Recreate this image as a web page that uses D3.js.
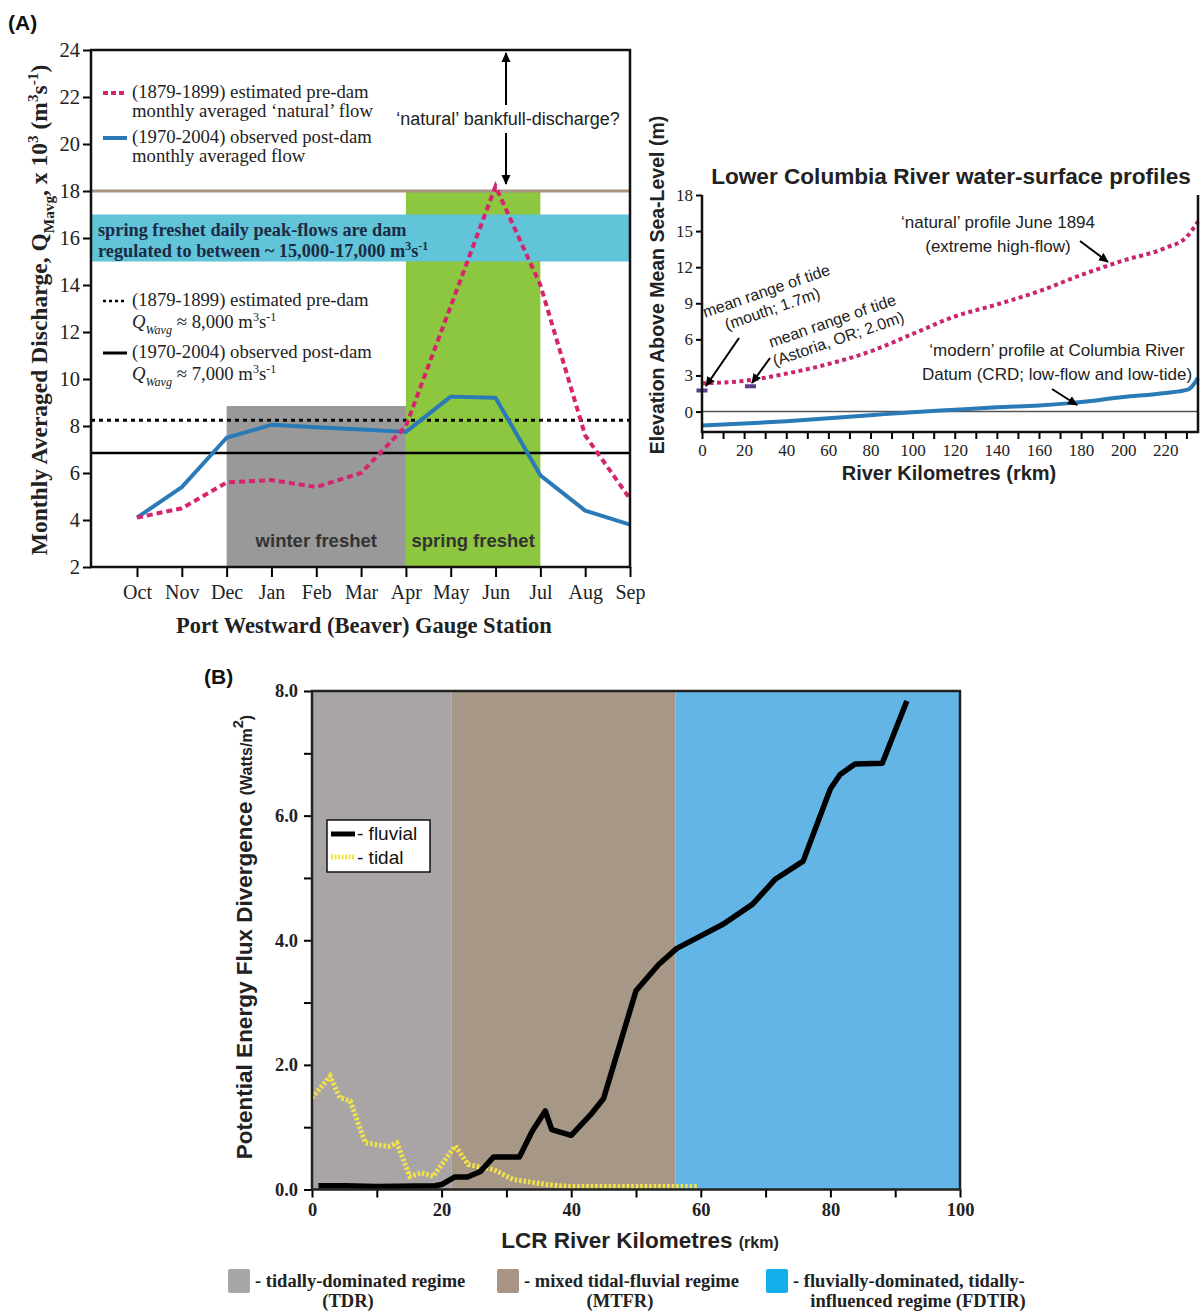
<!DOCTYPE html>
<html><head><meta charset="utf-8">
<script src="https://cdn.jsdelivr.net/npm/d3@7"></script>
<style>body{margin:0;background:#fff}svg{display:block}</style>
</head><body>
<svg id="c" width="1203" height="1313"></svg>
<script>
// ---------- DATA ----------
// Panel A (left): monthly averaged discharge (x 10^3 m3/s)
const months = ["Oct","Nov","Dec","Jan","Feb","Mar","Apr","May","Jun","Jul","Aug","Sep"];
const naturalFlow = [4.1,4.5,5.6,5.7,5.4,6.0,8.0,13.1,18.2,14.0,7.6,4.9];
const observedFlow = [4.1,5.4,7.5,8.05,7.95,7.85,7.75,9.25,9.2,5.9,4.4,3.8];
const qWavgPre = 8.25, qWavgPost = 6.85;
const bankfullLine = 18;
const regulatedBand = [15,17];
const winterFreshet = ["Dec","Apr"], winterTop = 8.85;
const springFreshet = ["Apr","Jul"], springTop = 18;
const yTicksA = [2,4,6,8,10,12,14,16,18,20,22,24];

// Panel A (right): water-surface profiles
const rkmNatural = [0,20,40,60,80,100,120,140,160,180,200,220,230,235.5];
const elevNatural = [2.35,2.55,3.15,3.95,5.0,6.45,7.9,8.9,10.0,11.35,12.55,13.6,14.5,15.8];
const rkmModern = [0,20,40,60,80,100,120,140,160,175,200,220,231,235.5];
const elevModern = [-1.15,-1.0,-0.8,-0.55,-0.3,-0.05,0.15,0.35,0.5,0.7,1.2,1.55,1.85,2.8];
const tideKm = [0,23];
const tideRange = [1.75,2.1];
const yTicksR = [0,3,6,9,12,15,18];

// Panel B: potential energy flux divergence
const fluvialKm = [1,5,10,19,20,22,24,26,28,32,34,36,37,40,43,45,46.5,48,50,53.5,56.3,60,63.5,68,71.5,75.8,76.3,80,81.5,83.8,88,91.8];
const fluvialVal = [0.06,0.06,0.05,0.06,0.08,0.2,0.2,0.29,0.52,0.52,0.94,1.26,0.96,0.87,1.2,1.46,1.98,2.5,3.19,3.61,3.87,4.07,4.26,4.58,4.98,5.27,5.41,6.43,6.66,6.83,6.84,7.84];
const tidalKm = [0,2.8,4.3,5.9,8.2,11.8,13.1,15.1,16.9,18.7,22.1,24.1,28,31.1,36.2,39.3,59.4];
const tidalVal = [1.47,1.82,1.47,1.42,0.75,0.69,0.75,0.21,0.27,0.21,0.7,0.4,0.32,0.16,0.08,0.05,0.05];
const regimeNames = ["TDR","MTFR","FDTIR"];
const regimeBounds = [[0,21.5],[21.5,56.1],[56.1,100]];
const regimeColors = ["#a9a5a6","#a79786","#63b5e5"];
const regimeLegendColors = ["#a7a7a7","#a89585","#14afea"];

// ---------- SETUP ----------
const SERIF = "'Liberation Serif','Times New Roman',serif";
const SANS = "'Liberation Sans',Arial,sans-serif";
const svg = d3.select("#c");
svg.append("rect").attr("width",1203).attr("height",1313).attr("fill","#fff");
const defs = svg.append("defs");
defs.append("marker").attr("id","ah").attr("viewBox","0 0 10 10").attr("refX",9).attr("refY",5)
  .attr("markerWidth",5).attr("markerHeight",5).attr("orient","auto-start-reverse")
  .append("path").attr("d","M0,0.5 L10,5 L0,9.5 z").attr("fill","#000");

// rich text helper: parts [{t, s:'sub'|'sup', i:true, fs}]
function rich(sel, parts, size){
  let cur = 0;
  parts.forEach(p=>{
    let off = p.s==="sub" ? size*0.3 : p.s==="sup" ? -size*0.38 : 0;
    const ts = sel.append("tspan").text(p.t).attr("dy", off-cur);
    if(p.s) ts.attr("font-size", size*0.65);
    if(p.fs) ts.attr("font-size", p.fs);
    if(p.i) ts.attr("font-style","italic");
    cur = off;
  });
}
function cleanAxis(ax, font, size, weight){
  ax.select(".domain").remove();
  ax.selectAll("text").filter(function(){return this.textContent==="";}).remove();
  ax.selectAll("text").attr("font-family",font).attr("font-size",size).attr("fill","#222").attr("font-weight",weight||"normal");
  ax.selectAll("line").attr("stroke-width",2);
}

// ================= PANEL A (left) =================
const xA = d3.scalePoint().domain(months).range([137,630]);
const yA = d3.scaleLinear().domain([2,24]).range([567,50]);
const gA = svg.append("g");
const L = 91, R = 630;

gA.append("rect").attr("x",xA(springFreshet[0])).attr("y",yA(springTop))
  .attr("width",xA(springFreshet[1])-xA(springFreshet[0])).attr("height",yA(2)-yA(springTop)).attr("fill","#8dc63f");
gA.append("rect").attr("x",xA(winterFreshet[0])).attr("y",yA(winterTop))
  .attr("width",xA(winterFreshet[1])-xA(winterFreshet[0])).attr("height",yA(2)-yA(winterTop)).attr("fill","#999999");
gA.append("rect").attr("x",L).attr("y",yA(regulatedBand[1])).attr("width",R-L)
  .attr("height",yA(regulatedBand[0])-yA(regulatedBand[1])).attr("fill","#62c4d8");
gA.append("line").attr("x1",L).attr("x2",R).attr("y1",yA(bankfullLine)).attr("y2",yA(bankfullLine))
  .attr("stroke","#a89584").attr("stroke-width",3);
gA.append("line").attr("x1",L).attr("x2",R).attr("y1",yA(qWavgPre)).attr("y2",yA(qWavgPre))
  .attr("stroke","#000").attr("stroke-width",3).attr("stroke-dasharray","4 4");
gA.append("line").attr("x1",L).attr("x2",R).attr("y1",yA(qWavgPost)).attr("y2",yA(qWavgPost))
  .attr("stroke","#000").attr("stroke-width",2.5);

gA.append("text").attr("x",(xA("Dec")+xA("Apr"))/2).attr("y",547).attr("text-anchor","middle")
  .attr("font-family",SANS).attr("font-weight","bold").attr("font-size",18.5).attr("fill","#333").text("winter freshet");
gA.append("text").attr("x",(xA("Apr")+xA("Jul"))/2).attr("y",547).attr("text-anchor","middle")
  .attr("font-family",SANS).attr("font-weight","bold").attr("font-size",18.5).attr("fill","#333").text("spring freshet");

const lineA = d3.line().x((d,i)=>xA(months[i])).y(d=>yA(d));
gA.append("path").attr("d",lineA(observedFlow)).attr("fill","none").attr("stroke","#2a7ab8").attr("stroke-width",4).attr("stroke-linejoin","round");
gA.append("path").attr("d",lineA(naturalFlow)).attr("fill","none").attr("stroke","#d6246e").attr("stroke-width",4).attr("stroke-dasharray","6 4");

// axes
const axYA = gA.append("g").attr("transform",`translate(${L},0)`).call(d3.axisLeft(yA).tickValues(yTicksA).tickSize(8).tickPadding(3));
cleanAxis(axYA, SERIF, 20.5);
const axXA = gA.append("g").attr("transform",`translate(0,567)`).call(d3.axisBottom(xA).tickSize(10).tickPadding(8));
cleanAxis(axXA, SERIF, 20);
gA.append("rect").attr("x",L).attr("y",50).attr("width",R-L).attr("height",517).attr("fill","none").attr("stroke","#111").attr("stroke-width",2.5);

// legend top
gA.append("line").attr("x1",103).attr("x2",127).attr("y1",93).attr("y2",93).attr("stroke","#d6246e").attr("stroke-width",4).attr("stroke-dasharray","5 3");
gA.append("line").attr("x1",103).attr("x2",127).attr("y1",138).attr("y2",138).attr("stroke","#2a7ab8").attr("stroke-width",4);
[["(1879-1899) estimated pre-dam",98],["monthly averaged \u2018natural\u2019 flow",117],["(1970-2004) observed post-dam",143],["monthly averaged flow",162]]
  .forEach(([t,y])=>gA.append("text").attr("x",132).attr("y",y).attr("font-family",SERIF).attr("font-size",18.7).attr("fill","#222").text(t));

// bankfull arrow
gA.append("line").attr("x1",506).attr("x2",506).attr("y1",105).attr("y2",53).attr("stroke","#000").attr("stroke-width",2).attr("marker-end","url(#ah)");
gA.append("line").attr("x1",506).attr("x2",506).attr("y1",133).attr("y2",184).attr("stroke","#000").attr("stroke-width",2).attr("marker-end","url(#ah)");
gA.append("text").attr("x",508).attr("y",125).attr("text-anchor","middle").attr("font-family",SANS).attr("font-size",18).attr("fill","#222").text("\u2018natural\u2019 bankfull-discharge?");

// cyan band text
gA.append("text").attr("x",98).attr("y",236).attr("font-family",SERIF).attr("font-weight","bold").attr("font-size",18.3).attr("fill","#1c2b45").text("spring freshet daily peak-flows are dam");
rich(gA.append("text").attr("x",98).attr("y",257).attr("font-family",SERIF).attr("font-weight","bold").attr("font-size",18.3).attr("fill","#1c2b45"),
  [{t:"regulated to between ~ 15,000-17,000 m"},{t:"3",s:"sup"},{t:"s"},{t:"-1",s:"sup"}],18.3);

// middle legend
gA.append("line").attr("x1",103).attr("x2",127).attr("y1",301).attr("y2",301).attr("stroke","#000").attr("stroke-width",2.5).attr("stroke-dasharray","3 3");
gA.append("line").attr("x1",103).attr("x2",127).attr("y1",353).attr("y2",353).attr("stroke","#000").attr("stroke-width",3);
gA.append("text").attr("x",132).attr("y",306).attr("font-family",SERIF).attr("font-size",18.7).attr("fill","#222").text("(1879-1899) estimated pre-dam");
rich(gA.append("text").attr("x",132).attr("y",328).attr("font-family",SERIF).attr("font-size",18.7).attr("fill","#222"),
  [{t:"Q",i:true},{t:"Wavg",s:"sub",i:true},{t:" \u2248 8,000 m"},{t:"3",s:"sup"},{t:"s"},{t:"-1",s:"sup"}],18.7);
gA.append("text").attr("x",132).attr("y",358).attr("font-family",SERIF).attr("font-size",18.7).attr("fill","#222").text("(1970-2004) observed post-dam");
rich(gA.append("text").attr("x",132).attr("y",380).attr("font-family",SERIF).attr("font-size",18.7).attr("fill","#222"),
  [{t:"Q",i:true},{t:"Wavg",s:"sub",i:true},{t:" \u2248 7,000 m"},{t:"3",s:"sup"},{t:"s"},{t:"-1",s:"sup"}],18.7);

// titles
svg.append("text").attr("x",8).attr("y",30).attr("font-family",SANS).attr("font-weight","bold").attr("font-size",21).attr("fill","#111").text("(A)");
rich(svg.append("text").attr("transform","translate(47,310) rotate(-90)").attr("text-anchor","middle")
  .attr("font-family",SERIF).attr("font-weight","bold").attr("font-size",23.5).attr("fill","#222"),
  [{t:"Monthly Averaged Discharge, Q"},{t:"Mavg",s:"sub"},{t:", x 10"},{t:"3",s:"sup"},{t:" (m"},{t:"3",s:"sup"},{t:"s"},{t:"-1",s:"sup"},{t:")"}],23.5);
svg.append("text").attr("x",364).attr("y",633).attr("text-anchor","middle").attr("font-family",SERIF).attr("font-weight","bold").attr("font-size",22.5).attr("fill","#222").text("Port Westward (Beaver) Gauge Station");

// ================= PANEL A (right) =================
const xR = d3.scaleLinear().domain([0,235.5]).range([702,1198]);
const yR = d3.scaleLinear().domain([-1.7,18]).range([432,195]);
const gR = svg.append("g");
gR.append("line").attr("x1",702).attr("x2",1198).attr("y1",yR(0)).attr("y2",yR(0)).attr("stroke","#555").attr("stroke-width",1.5);
const lineR = d3.line().x(d=>xR(d[0])).y(d=>yR(d[1])).curve(d3.curveMonotoneX);
gR.append("path").attr("d",lineR(rkmModern.map((k,i)=>[k,elevModern[i]]))).attr("fill","none").attr("stroke","#2a7ab8").attr("stroke-width",4);
gR.append("path").attr("d",lineR(rkmNatural.map((k,i)=>[k,elevNatural[i]]))).attr("fill","none").attr("stroke","#c8266e").attr("stroke-width",4).attr("stroke-dasharray","4 3.5");
tideKm.forEach((k,i)=>gR.append("line").attr("x1",xR(k)-5.5).attr("x2",xR(k)+5.5).attr("y1",yR(tideRange[i])).attr("y2",yR(tideRange[i])).attr("stroke","#5b3b8c").attr("stroke-width",4));

const axYR = gR.append("g").attr("transform","translate(702,0)").call(d3.axisLeft(yR).tickValues(yTicksR).tickSize(6).tickPadding(3));
cleanAxis(axYR, SERIF, 17);
const axXR = gR.append("g").attr("transform","translate(0,432)").call(d3.axisBottom(xR).tickValues(d3.range(0,231,10)).tickSize(7).tickPadding(5).tickFormat(d=>d%20===0?d:""));
cleanAxis(axXR, SERIF, 17);
gR.append("path").attr("d","M702,195 L702,432 L1198,432 L1198,195").attr("fill","none").attr("stroke","#111").attr("stroke-width",2.5);

svg.append("text").attr("x",951).attr("y",184).attr("text-anchor","middle").attr("font-family",SANS).attr("font-weight","bold").attr("font-size",22.6).attr("fill","#222").text("Lower Columbia River water-surface profiles");
svg.append("text").attr("transform","translate(664,285) rotate(-90)").attr("text-anchor","middle").attr("font-family",SANS).attr("font-weight","bold").attr("font-size",19.5).attr("fill","#222").text("Elevation Above Mean Sea-Level (m)");
svg.append("text").attr("x",949).attr("y",480).attr("text-anchor","middle").attr("font-family",SANS).attr("font-weight","bold").attr("font-size",20).attr("fill","#222").text("River Kilometres (rkm)");

const annR = [
  {g:"translate(768,296) rotate(-19)", lines:["mean range of tide","(mouth; 1.7m)"]},
  {g:"translate(834,326) rotate(-19)", lines:["mean range of tide","(Astoria, OR; 2.0m)"]}
];
annR.forEach(a=>{
  const t = gR.append("g").attr("transform",a.g);
  a.lines.forEach((l,i)=>t.append("text").attr("x",0).attr("y",i*19).attr("text-anchor","middle").attr("font-family",SANS).attr("font-size",16).attr("fill","#222").text(l));
});
[["\u2018natural\u2019 profile June 1894",998,228],["(extreme high-flow)",998,252],["\u2018modern\u2019 profile at Columbia River",1057,356],["Datum (CRD; low-flow and low-tide)",1057,380]]
  .forEach(([t,x,y])=>gR.append("text").attr("x",x).attr("y",y).attr("text-anchor","middle").attr("font-family",SANS).attr("font-size",17).attr("fill","#222").text(t));
[[739,338,706,386],[770,358,752,383],[1080,241,1108,262],[1052,389,1077,405]].forEach(([a,b,c,d])=>
  gR.append("line").attr("x1",a).attr("y1",b).attr("x2",c).attr("y2",d).attr("stroke","#000").attr("stroke-width",2).attr("marker-end","url(#ah)"));

// ================= PANEL B =================
const xB = d3.scaleLinear().domain([0,100]).range([312,960]);
const yB = d3.scaleLinear().domain([0,8]).range([1189.5,691]);
const gB = svg.append("g");
regimeBounds.forEach((b,i)=>gB.append("rect").attr("x",xB(b[0])).attr("y",yB(8)).attr("width",xB(b[1])-xB(b[0])).attr("height",yB(0)-yB(8)).attr("fill",regimeColors[i]));
const lineB = d3.line().x(d=>xB(d[0])).y(d=>yB(d[1]));
gB.append("path").attr("d",lineB(tidalKm.map((k,i)=>[k,tidalVal[i]]))).attr("fill","none").attr("stroke","#f2e447").attr("stroke-width",5).attr("stroke-dasharray","2.5 2");
gB.append("path").attr("d",lineB(fluvialKm.map((k,i)=>[k,fluvialVal[i]]))).attr("fill","none").attr("stroke","#000").attr("stroke-width",5.5).attr("stroke-linejoin","round");

const axYB = gB.append("g").attr("transform","translate(312,0)").call(d3.axisLeft(yB).tickValues(d3.range(0,9,1)).tickSize(8).tickPadding(6).tickFormat(d=>d%2===0?d3.format(".1f")(d):""));
cleanAxis(axYB, SERIF, 18.5, "bold");
const axXB = gB.append("g").attr("transform","translate(0,1189.5)").call(d3.axisBottom(xB).tickValues(d3.range(0,101,10)).tickSize(8).tickPadding(5).tickFormat(d=>d%20===0?d:""));
cleanAxis(axXB, SERIF, 18.5, "bold");
gB.append("rect").attr("x",312).attr("y",691).attr("width",648).attr("height",498.5).attr("fill","none").attr("stroke","#222").attr("stroke-width",2.5);

// legend in B
gB.append("rect").attr("x",327).attr("y",820).attr("width",103).attr("height",52).attr("fill","#fff").attr("stroke","#111").attr("stroke-width",1.5);
gB.append("line").attr("x1",331).attr("x2",355).attr("y1",834).attr("y2",834).attr("stroke","#000").attr("stroke-width",5);
gB.append("line").attr("x1",331).attr("x2",355).attr("y1",857).attr("y2",857).attr("stroke","#f2e447").attr("stroke-width",5).attr("stroke-dasharray","2 1.5");
gB.append("text").attr("x",357).attr("y",840).attr("font-family",SANS).attr("font-size",19).attr("fill","#111").text("- fluvial");
gB.append("text").attr("x",357).attr("y",864).attr("font-family",SANS).attr("font-size",19).attr("fill","#111").text("- tidal");

svg.append("text").attr("x",204).attr("y",684).attr("font-family",SANS).attr("font-weight","bold").attr("font-size",21).attr("fill","#111").text("(B)");
rich(svg.append("text").attr("transform","translate(252,937) rotate(-90)").attr("text-anchor","middle").attr("font-family",SANS).attr("font-weight","bold").attr("font-size",22.5).attr("fill","#222"),
  [{t:"Potential Energy Flux Divergence "},{t:"(Watts/m",fs:16},{t:"2",s:"sup"},{t:")",fs:16}],22.5);
rich(svg.append("text").attr("x",640).attr("y",1248).attr("text-anchor","middle").attr("font-family",SANS).attr("font-weight","bold").attr("font-size",22.5).attr("fill","#222"),
  [{t:"LCR River Kilometres "},{t:"(rkm)",fs:16}],22.5);

// bottom legend
const legB = [
  {x:228, l1:"- tidally-dominated regime", l2:"(TDR)", c2:348},
  {x:497, l1:"- mixed tidal-fluvial regime", l2:"(MTFR)", c2:620},
  {x:766, l1:"- fluvially-dominated, tidally-", l2:"influenced regime (FDTIR)", c2:918}
];
legB.forEach((d,i)=>{
  svg.append("rect").attr("x",d.x).attr("y",1269).attr("width",22).attr("height",24).attr("rx",2).attr("fill",regimeLegendColors[i]);
  svg.append("text").attr("x",d.x+27).attr("y",1287).attr("font-family",SERIF).attr("font-weight","bold").attr("font-size",18.5).attr("fill","#222").text(d.l1);
  svg.append("text").attr("x",d.c2).attr("y",1307).attr("text-anchor","middle").attr("font-family",SERIF).attr("font-weight","bold").attr("font-size",18.5).attr("fill","#222").text(d.l2);
});
</script>
</body></html>
